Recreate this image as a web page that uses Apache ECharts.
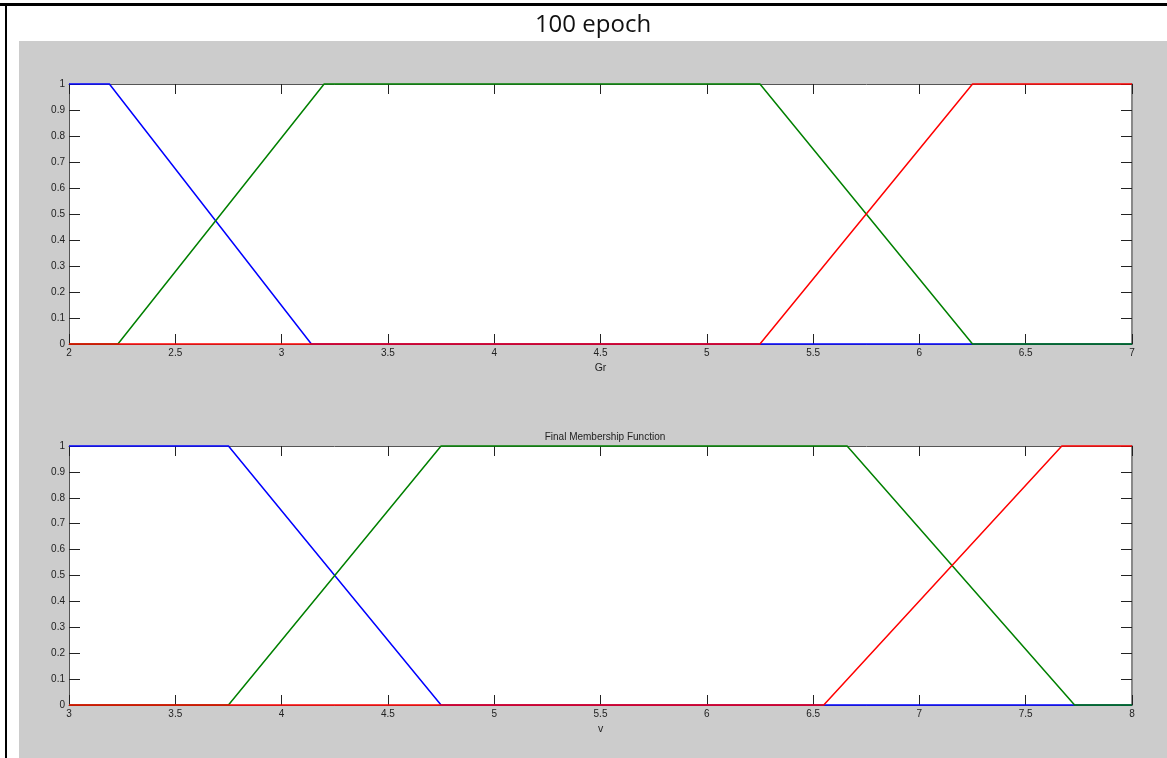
<!DOCTYPE html>
<html>
<head>
<meta charset="utf-8">
<script src="https://cdn.jsdelivr.net/npm/echarts@6/dist/echarts.min.js"></script>
<style>
  html, body { margin: 0; padding: 0; background: #fff; }
  #chart { width: 1167px; height: 758px; }
</style>
</head>
<body>
<div id="chart"></div>
<script>
// Membership function vertices [x, membership] for input "Gr"
const grLow  = [[2, 1], [2.19, 1], [3.14, 0], [7, 0]];
const grMid  = [[2, 0], [2.23, 0], [3.20, 1], [5.25, 1], [6.25, 0], [7, 0]];
const grHigh = [[2, 0], [5.25, 0], [6.25, 1], [7, 1]];

// Membership function vertices [x, membership] for input "v"
const vLow  = [[3, 1], [3.75, 1], [4.75, 0], [8, 0]];
const vMid  = [[3, 0], [3.75, 0], [4.75, 1], [6.66, 1], [7.73, 0], [8, 0]];
const vHigh = [[3, 0], [6.55, 0], [7.67, 1], [8, 1]];

const yTicks = { min: 0, max: 1, interval: 0.1 };
const grRange = { min: 2, max: 7, interval: 0.5 };
const vRange  = { min: 3, max: 8, interval: 0.5 };

const figureTitle = '100 epoch';
const subplotTitle = 'Final Membership Function';
const xNames = ['Gr', 'v'];

const COLORS = { low: '#0000ff', mid: '#008000', high: '#ff0000' };
const labelFont = { fontFamily: 'Arial, "Liberation Sans", sans-serif', fontSize: 10, color: '#222' };
const frameColor = '#555';

const chart = echarts.init(document.getElementById('chart'), null, { renderer: 'canvas' });

function xAxisPair(gridIndex, range, name) {
  return [
    {
      type: 'value', gridIndex, position: 'bottom', ...range, z: 1,
      name, nameLocation: 'middle', nameGap: 19,
      nameTextStyle: { ...labelFont, fontSize: 10.5 },
      axisLine: { show: true, onZero: false, lineStyle: { color: frameColor, width: 1 } },
      axisTick: { show: true, inside: true, length: 10, lineStyle: { color: '#222' } },
      axisLabel: { ...labelFont, margin: 4 },
      splitLine: { show: false }
    },
    {
      type: 'value', gridIndex, position: 'top', ...range, z: 1,
      axisLine: { show: true, onZero: false, lineStyle: { color: frameColor, width: 1 } },
      axisTick: { show: true, inside: true, length: 10, lineStyle: { color: '#222' } },
      axisLabel: { show: false },
      splitLine: { show: false }
    }
  ];
}

function yAxisPair(gridIndex) {
  return [
    {
      type: 'value', gridIndex, position: 'left', ...yTicks, z: 1,
      axisLine: { show: true, onZero: false, lineStyle: { color: frameColor, width: 1 } },
      axisTick: { show: true, inside: true, length: 11, lineStyle: { color: '#222' } },
      axisLabel: { ...labelFont, margin: 4 },
      splitLine: { show: false }
    },
    {
      type: 'value', gridIndex, position: 'right', ...yTicks, z: 1,
      axisLine: { show: true, onZero: false, lineStyle: { color: '#888', width: 2 } },
      axisTick: { show: true, inside: true, length: 11, lineStyle: { color: '#222' } },
      axisLabel: { show: false },
      splitLine: { show: false }
    }
  ];
}

function mfSeries(data, color, xIdx, yIdx, z) {
  return {
    type: 'line', data, xAxisIndex: xIdx, yAxisIndex: yIdx,
    showSymbol: false, symbol: 'none', z, clip: false,
    lineStyle: { color, width: 1.5 },
    emphasis: { disabled: true }, silent: true
  };
}

chart.setOption({
  animation: false,
  backgroundColor: '#fff',
  title: [
    {
      text: figureTitle, left: 588, top: 8, textAlign: 'center',
      textStyle: { fontFamily: '"Open Sans", Lato, sans-serif', fontSize: 24, fontWeight: 'normal', color: '#111' }
    },
    {
      text: subplotTitle, left: 600, top: 427, textAlign: 'center',
      textStyle: { ...labelFont, fontSize: 10, fontWeight: 'normal' }
    }
  ],
  graphic: [
    { type: 'rect', shape: { x: 19, y: 41, width: 1148, height: 717 }, style: { fill: '#cccccc' }, z: -10 },
    { type: 'rect', shape: { x: 0, y: 3, width: 1167, height: 3 }, style: { fill: '#000' }, z: -5 },
    { type: 'rect', shape: { x: 5, y: 3, width: 2, height: 755 }, style: { fill: '#000' }, z: -5 }
  ],
  grid: [
    { left: 69, top: 84, width: 1063, height: 260, show: true, backgroundColor: '#fff', borderWidth: 0, z: 0 },
    { left: 69, top: 446, width: 1063, height: 259, show: true, backgroundColor: '#fff', borderWidth: 0, z: 0 }
  ],
  xAxis: [...xAxisPair(0, grRange, xNames[0]), ...xAxisPair(1, vRange, xNames[1])],
  yAxis: [...yAxisPair(0), ...yAxisPair(1)],
  series: [
    mfSeries(grLow,  COLORS.low,  0, 0, 10),
    mfSeries(grMid,  COLORS.mid,  0, 0, 11),
    mfSeries(grHigh, COLORS.high, 0, 0, 12),
    mfSeries(vLow,   COLORS.low,  2, 2, 10),
    mfSeries(vMid,   COLORS.mid,  2, 2, 11),
    mfSeries(vHigh,  COLORS.high, 2, 2, 12)
  ]
});
</script>
</body>
</html>
